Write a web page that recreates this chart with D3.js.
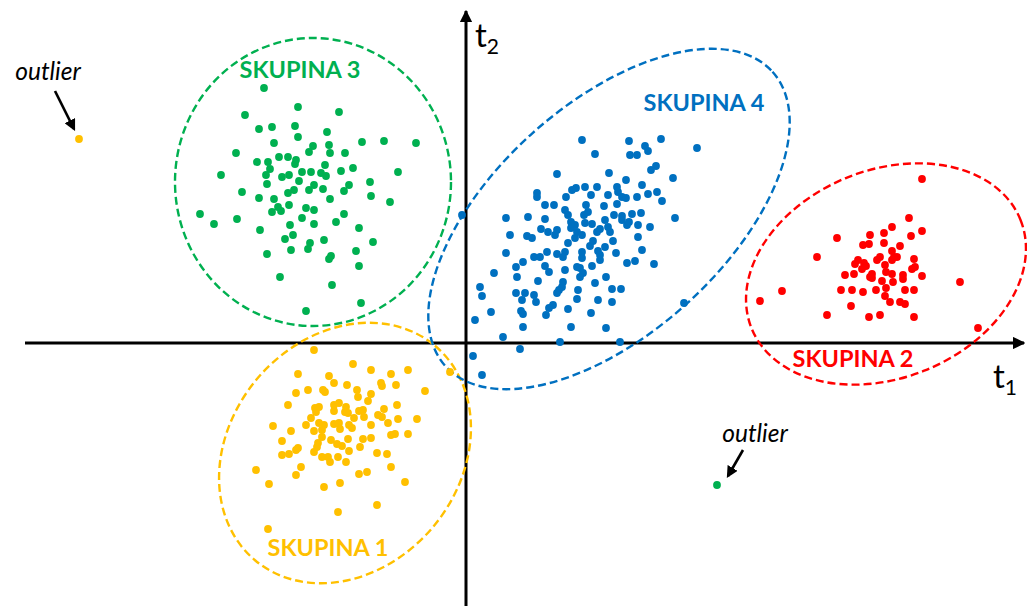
<!DOCTYPE html>
<html>
<head>
<meta charset="utf-8">
<script src="https://cdn.jsdelivr.net/npm/d3@7"></script>
<style>
  html, body { margin: 0; padding: 0; background: #fff; }
  svg { display: block; }
</style>
</head>
<body>
<div id="chart"></div>
<script>
// score plot t1 / t2, four clusters (skupiny) + two outliers

const skupina1 = [
  [-1.52,-0.07],[-1.13,-0.21],[-1.68,-0.31],[-1.37,-0.33],[-1.32,-0.40],[-1.19,-0.42],[-1.70,-0.50],[-1.58,-0.47],
  [-1.43,-0.47],[-1.41,-0.49],[-1.78,-0.62],[-1.51,-0.65],[-1.47,-0.64],[-1.50,-0.69],[-1.32,-0.62],[-1.27,-0.60],
  [-1.32,-0.68],[-1.20,-0.64],[-1.21,-0.69],[-1.18,-0.70],[-1.55,-0.75],[-1.47,-0.80],[-1.42,-0.82],[-1.60,-0.82],
  [-1.93,-0.83],[-1.32,-0.81],[-1.27,-0.80],[-1.26,-0.86],[-1.17,-0.82],[-1.14,-0.85],[-1.75,-0.88],[-1.52,-0.88],
  [-1.44,-0.87],[-1.44,-0.94],[-1.84,-0.98],[-1.35,-0.97],[-1.18,-0.96],[-1.48,-1.00],[-1.49,-1.04],[-1.29,-1.01],
  [-1.24,-1.03],[-1.68,-1.05],[-1.70,-1.07],[-1.52,-1.09],[-1.17,-1.08],[-1.84,-1.12],[-1.77,-1.11],[-1.44,-1.14],
  [-1.38,-1.14],[-1.28,-1.14],[-1.36,-1.19],[-1.20,-1.19],[-1.65,-1.24],[-2.10,-1.27],[-1.70,-1.32],[-1.97,-1.41],
  [-1.26,-1.40],[-1.42,-1.44],[-1.28,-1.69],[-1.98,-1.86],[-0.95,-0.27],[-0.75,-0.31],[-0.58,-0.27],[-0.16,-0.29],
  [-0.85,-0.40],[-0.84,-0.43],[-0.70,-0.42],[-0.41,-0.48],[-1.09,-0.47],[-1.08,-0.54],[-0.95,-0.51],[-0.98,-0.58],
  [-0.69,-0.62],[-1.07,-0.68],[-1.03,-0.67],[-0.82,-0.66],[-1.12,-0.75],[-1.02,-0.74],[-0.88,-0.72],[-0.84,-0.74],
  [-0.68,-0.76],[-0.49,-0.76],[-0.78,-0.80],[-0.95,-0.82],[-0.75,-0.92],[-0.71,-0.91],[-0.58,-0.91],[-1.03,-0.96],
  [-0.95,-0.95],[-1.06,-1.04],[-0.89,-1.10],[-0.79,-1.11],[-0.75,-1.24],[-1.07,-1.31],[-0.99,-1.29],[-0.61,-1.39],
  [-0.89,-1.62]
];

const skupina2 = [
  [3.71,1.05],[4.04,1.08],[3.97,0.98],[4.03,0.99],[3.51,0.86],[3.92,0.83],[3.89,0.79],[3.98,0.80],
  [4.00,0.77],[3.96,0.74],[3.79,0.68],[3.88,0.69],[4.04,0.66],[3.16,0.52],[2.94,0.42],[3.75,0.53],
  [3.86,0.53],[3.97,0.51],[3.85,0.37],[3.61,0.28],[4.03,0.26],[4.56,1.64],[4.43,1.25],[4.26,1.16],
  [4.18,1.10],[4.45,1.07],[4.56,1.12],[4.18,1.00],[4.34,0.97],[4.26,0.92],[4.14,0.86],[4.11,0.83],
  [4.28,0.86],[4.26,0.83],[4.31,0.86],[4.48,0.84],[4.19,0.78],[4.46,0.74],[4.49,0.76],[4.06,0.69],
  [4.20,0.71],[4.26,0.69],[4.37,0.68],[4.56,0.67],[4.06,0.65],[4.16,0.62],[4.27,0.61],[4.37,0.64],
  [4.10,0.53],[4.20,0.55],[4.39,0.53],[4.48,0.53],[4.19,0.47],[4.94,0.61],[4.24,0.41],[4.34,0.41],
  [4.39,0.39],[4.14,0.28],[4.48,0.26],[5.12,0.15]
];

const skupina3 = [
  [-2.02,2.55],[-1.68,2.36],[-2.21,2.28],[-2.07,2.14],[-1.94,2.16],[-1.71,2.17],[-1.68,2.06],[-1.92,2.00],
  [-1.53,1.97],[-2.30,1.90],[-1.57,1.91],[-1.87,1.86],[-1.78,1.86],[-2.09,1.81],[-1.98,1.81],[-1.70,1.83],
  [-1.71,1.79],[-1.96,1.74],[-1.64,1.71],[-1.55,1.71],[-2.45,1.68],[-2.00,1.68],[-1.84,1.66],[-1.77,1.68],
  [-1.67,1.62],[-1.99,1.59],[-1.52,1.58],[-2.24,1.51],[-1.78,1.50],[-1.72,1.53],[-1.57,1.53],[-2.07,1.45],
  [-1.92,1.44],[-1.27,2.31],[-1.39,2.11],[-1.37,1.98],[-1.04,2.01],[-0.82,2.02],[-0.50,2.00],[-1.36,1.90],
  [-1.21,1.90],[-1.41,1.78],[-1.45,1.70],[-1.40,1.67],[-1.25,1.72],[-1.13,1.75],[-0.68,1.71],[-1.43,1.54],
  [-1.17,1.58],[-0.96,1.61],[-1.22,1.52],[-1.36,1.44],[-0.95,1.47],[-0.76,1.41],[-1.88,1.36],[-1.77,1.38],
  [-1.85,1.32],[-1.94,1.31],[-1.60,1.35],[-1.52,1.33],[-2.66,1.29],[-2.52,1.19],[-2.29,1.24],[-1.64,1.25],
  [-1.76,1.18],[-1.52,1.19],[-2.06,1.13],[-1.73,1.08],[-1.81,1.04],[-1.56,1.00],[-1.58,0.94],[-1.75,0.93],
  [-1.99,0.89],[-1.86,0.66],[-1.60,0.32],[-1.22,1.29],[-1.30,1.21],[-1.07,1.15],[-1.42,1.03],[-0.93,1.01],
  [-1.10,0.92],[-1.35,0.87],[-1.37,0.84],[-1.07,0.77],[-1.34,0.58],[-1.05,0.40]
];

const skupina4 = [
  [1.16,2.03],[0.91,1.69],[1.10,1.55],[1.06,1.53],[0.71,1.50],[0.71,1.46],[1.00,1.46],[0.79,1.38],
  [0.88,1.38],[-0.04,1.28],[0.99,1.33],[1.02,1.28],[0.40,1.25],[0.62,1.26],[0.79,1.24],[1.05,1.21],
  [1.09,1.18],[0.75,1.14],[0.82,1.11],[0.91,1.13],[0.89,1.08],[1.05,1.15],[1.11,1.11],[0.44,1.08],
  [0.61,1.07],[0.66,1.05],[1.02,1.00],[0.40,0.90],[0.81,0.91],[0.91,0.89],[0.99,0.91],[1.63,2.02],
  [1.95,2.04],[1.79,1.97],[1.82,1.92],[2.31,1.95],[1.29,1.89],[1.64,1.88],[1.71,1.88],[1.90,1.77],
  [1.85,1.73],[1.43,1.70],[1.60,1.63],[2.07,1.65],[1.76,1.58],[1.19,1.56],[1.31,1.56],[1.51,1.56],
  [1.52,1.51],[1.25,1.48],[1.42,1.48],[1.56,1.46],[1.60,1.45],[1.71,1.46],[1.82,1.49],[1.91,1.51],
  [1.96,1.42],[1.20,1.38],[1.38,1.37],[1.51,1.39],[1.22,1.31],[1.18,1.28],[1.48,1.28],[1.56,1.27],
  [1.66,1.29],[1.75,1.30],[1.56,1.23],[1.63,1.21],[1.61,1.18],[2.09,1.25],[1.39,1.23],[1.19,1.20],
  [1.26,1.19],[1.72,1.18],[1.84,1.16],[1.34,1.14],[1.42,1.16],[1.31,1.11],[1.44,1.11],[1.16,1.08],
  [1.72,1.06],[1.09,1.05],[1.27,1.02],[1.47,1.02],[1.24,0.97],[1.39,0.96],[1.16,0.91],[1.32,0.92],
  [1.50,0.90],[1.76,0.93],[1.34,0.88],[0.68,0.86],[0.74,0.86],[0.97,0.86],[0.50,0.76],[0.57,0.81],
  [0.79,0.77],[0.83,0.71],[0.99,0.73],[1.11,0.76],[0.28,0.70],[0.51,0.66],[0.72,0.62],[0.97,0.61],
  [0.96,0.56],[0.14,0.56],[0.16,0.47],[0.50,0.50],[0.59,0.50],[0.93,0.53],[0.91,0.50],[1.12,0.53],
  [0.68,0.48],[0.56,0.43],[0.70,0.41],[1.11,0.44],[0.87,0.38],[0.83,0.35],[1.02,0.34],[0.55,0.32],
  [0.57,0.29],[0.80,0.28],[0.25,0.31],[0.09,0.23],[0.57,0.16],[1.05,0.16],[0.37,0.06],[0.94,0.01],
  [0.54,-0.06],[0.07,-0.13],[0.16,-0.32],[1.16,0.85],[1.26,0.77],[1.34,0.83],[1.61,0.80],[1.69,0.82],
  [1.88,0.79],[1.14,0.75],[1.17,0.70],[1.14,0.66],[1.40,0.66],[1.29,0.60],[1.46,0.54],[1.55,0.54],
  [1.32,0.43],[1.46,0.41],[2.18,0.40],[1.25,0.30],[1.40,0.15],[1.54,0.01]
];

const outliers = [
  { t1: -3.87, t2: 2.04, color: "#FFC000" },
  { t1: 2.51, t2: -1.42, color: "#00B050" }
];

// ellipse outlines: centre, semi-axes (score units), rotation (deg)
const groups = [
  { name: "SKUPINA 1", color: "#FFC000", pts: skupina1, cx: -1.21, cy: -1.10, rx: 1.40, ry: 1.15, rot: -50, lx: -1.38, ly: -2.13 },
  { name: "SKUPINA 2", color: "#FF0000", pts: skupina2, cx: 4.20, cy: 0.69, rx: 1.45, ry: 1.04, rot: -22, lx: 3.87, ly: -0.24 },
  { name: "SKUPINA 3", color: "#00B050", pts: skupina3, cx: -1.53, cy: 1.61, rx: 1.38, ry: 1.44, rot: 0, lx: -1.66, ly: 2.65 },
  { name: "SKUPINA 4", color: "#0070C0", pts: skupina4, cx: 1.43, cy: 1.24, rx: 2.20, ry: 1.15, rot: -42, lx: 2.38, ly: 2.32 }
];

const width = 1027, height = 606;

const x = d3.scaleLinear().domain([-4.66, 5.61]).range([0, width]);
const y = d3.scaleLinear().domain([3.43, -2.63]).range([0, height]);

const svg = d3.select("#chart").append("svg")
    .attr("width", width)
    .attr("height", height);

const defs = svg.append("defs");
defs.append("marker")
    .attr("id", "axisHead")
    .attr("viewBox", "0 0 10 10")
    .attr("refX", 9).attr("refY", 5)
    .attr("markerWidth", 4.2).attr("markerHeight", 4.2)
    .attr("markerUnits", "strokeWidth")
    .attr("orient", "auto")
  .append("path")
    .attr("d", "M0,0 L10,5 L0,10 z")
    .attr("fill", "#000");
defs.append("marker")
    .attr("id", "smallHead")
    .attr("viewBox", "0 0 10 10")
    .attr("refX", 8).attr("refY", 5)
    .attr("markerWidth", 4.5).attr("markerHeight", 4.5)
    .attr("markerUnits", "strokeWidth")
    .attr("orient", "auto")
  .append("path")
    .attr("d", "M0,0 L10,5 L0,10 z")
    .attr("fill", "#000");

// AXES ****************************
svg.append("line")
    .attr("x1", x(-4.41)).attr("y1", y(0))
    .attr("x2", x(5.58)).attr("y2", y(0))
    .attr("stroke", "#000")
    .attr("stroke-width", 3)
    .attr("marker-end", "url(#axisHead)");

svg.append("line")
    .attr("x1", x(0)).attr("y1", y(-2.63))
    .attr("x2", x(0)).attr("y2", y(3.32))
    .attr("stroke", "#000")
    .attr("stroke-width", 3)
    .attr("marker-end", "url(#axisHead)");

const axisLabels = [
  { t: "t", sub: "1", t1: 5.27, t2: -0.45 },
  { t: "t", sub: "2", t1: 0.09, t2: 2.96 }
];
axisLabels.forEach(a => {
  const txt = svg.append("text")
      .attr("x", x(a.t1)).attr("y", y(a.t2))
      .style("font-family", "Lato, 'Open Sans', sans-serif")
      .style("font-size", "33px")
      .attr("fill", "#000");
  txt.append("tspan").text(a.t);
  txt.append("tspan").attr("dy", 7).style("font-size", "21px").text(a.sub);
});

// ELLIPSES ***************************
svg.selectAll("ellipse.grp")
  .data(groups)
  .enter().append("ellipse")
    .attr("class", "grp")
    .attr("cx", 0).attr("cy", 0)
    .attr("rx", d => x(d.rx) - x(0))
    .attr("ry", d => y(0) - y(d.ry))
    .attr("transform", d => "translate(" + x(d.cx) + "," + y(d.cy) + ") rotate(" + d.rot + ")")
    .attr("fill", "none")
    .attr("stroke", d => d.color)
    .attr("stroke-width", 2.4)
    .attr("stroke-dasharray", "8,4");

// POINTS ***************************
groups.forEach(g => {
  svg.append("g").selectAll("circle")
    .data(g.pts)
    .enter().append("circle")
      .attr("cx", d => x(d[0]))
      .attr("cy", d => y(d[1]))
      .attr("r", 3.9)
      .attr("fill", g.color);
});

svg.selectAll("circle.outlier")
  .data(outliers)
  .enter().append("circle")
    .attr("class", "outlier")
    .attr("cx", d => x(d.t1))
    .attr("cy", d => y(d.t2))
    .attr("r", 3.9)
    .attr("fill", d => d.color);

// GROUP LABELS ************************
svg.selectAll("text.grp")
  .data(groups)
  .enter().append("text")
    .attr("class", "grp")
    .attr("x", d => x(d.lx))
    .attr("y", d => y(d.ly))
    .attr("text-anchor", "middle")
    .style("font-family", "Lato, 'Open Sans', sans-serif")
    .style("font-weight", "bold")
    .style("font-size", "23.5px")
    .attr("fill", d => d.color)
    .text(d => d.name);

// OUTLIER LABELS + ARROWS ******************
const outlierNotes = [
  { tx: -4.18, ty: 2.63, ax1: -4.11, ay1: 2.52, ax2: -3.92, ay2: 2.14 },
  { tx: 2.89, ty: -0.99, ax1: 2.77, ay1: -1.07, ax2: 2.62, ay2: -1.33 }
];
outlierNotes.forEach(n => {
  svg.append("text")
      .attr("x", x(n.tx)).attr("y", y(n.ty))
      .attr("text-anchor", "middle")
      .style("font-family", "Lato, 'Open Sans', sans-serif")
      .style("font-style", "italic")
      .style("font-size", "24.5px")
      .attr("fill", "#000")
      .text("outlier");
  svg.append("line")
      .attr("x1", x(n.ax1)).attr("y1", y(n.ay1))
      .attr("x2", x(n.ax2)).attr("y2", y(n.ay2))
      .attr("stroke", "#000")
      .attr("stroke-width", 2.6)
      .attr("marker-end", "url(#smallHead)");
});
</script>
</body>
</html>
